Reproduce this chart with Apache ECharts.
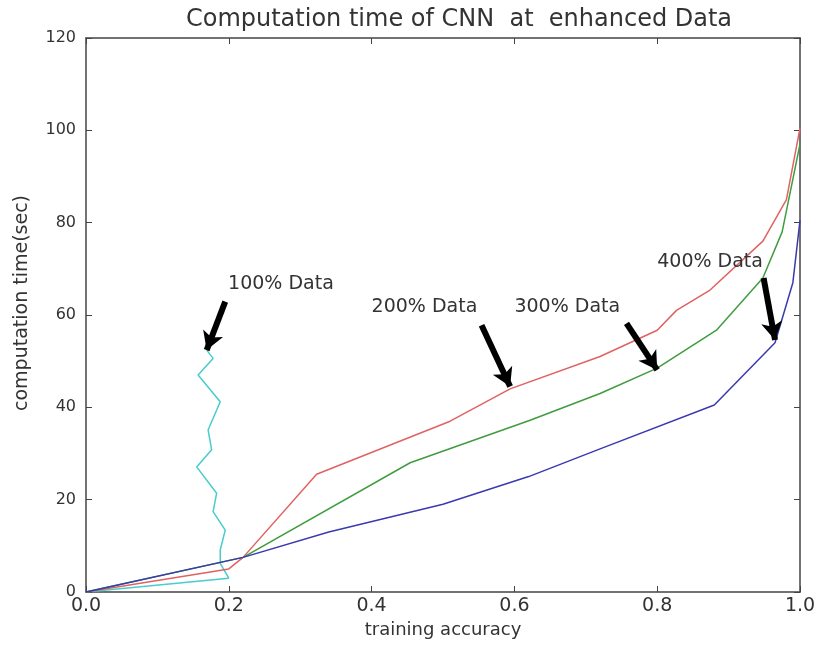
<!DOCTYPE html>
<html><head><meta charset="utf-8">
<script src="https://cdn.jsdelivr.net/npm/echarts@6/dist/echarts.min.js"></script>
<style>html,body{margin:0;padding:0;background:#fff}#c{width:820px;height:648px}</style>
</head><body><div id="c"></div>
<script>
const chartTitle = "Computation time of CNN  at  enhanced Data";
const xName = "training accuracy";
const yName = "computation time(sec)";
const xMin = 0, xMax = 1, xStep = 0.2;
const yMin = 0, yMax = 120, yStep = 20;

// 100% Data (cyan)
const acc100  = [0, 0.2, 0.188, 0.188, 0.195, 0.178, 0.183, 0.155, 0.176, 0.171, 0.188, 0.157, 0.178, 0.169];
const time100 = [0, 3, 6.2, 9.1, 13.4, 17.4, 21.4, 27.1, 30.8, 35.1, 41.2, 47, 50.6, 52.4];
// 200% Data (red)
const acc200  = [0, 0.2, 0.22, 0.323, 0.51, 0.594, 0.72, 0.80, 0.827, 0.874, 0.948, 0.981, 1.0];
const time200 = [0, 5, 7.5, 25.5, 37, 44, 51, 56.7, 61, 65.4, 76, 85, 100.5];
// 300% Data (green)
const acc300  = [0, 0.22, 0.454, 0.622, 0.72, 0.80, 0.883, 0.948, 0.975, 1.0];
const time300 = [0, 7.5, 28, 37.2, 43, 48.5, 56.7, 68, 78, 97];
// 400% Data (blue)
const acc400  = [0, 0.22, 0.34, 0.5, 0.62, 0.72, 0.88, 0.965, 0.99, 1.0];
const time400 = [0, 7.5, 13, 19, 25, 31, 40.5, 54, 67, 80.5];

// annotations: label position and arrow tail/head in data coordinates
const noteText  = ["100% Data", "200% Data", "300% Data", "400% Data"];
const noteX     = [0.199, 0.40, 0.60, 0.80];
const noteY     = [66.7, 61.7, 61.7, 71.5];
const arrowTail = [[0.195, 62.9], [0.554, 57.8], [0.757, 58.2], [0.949, 68]];
const arrowHead = [[0.169, 52.4], [0.594, 44.5], [0.80, 48.1], [0.965, 54.6]];

const colors = ["#48cccc", "#e06262", "#3f9c3f", "#3a3ab0"];

const pairs = (xs, ys) => xs.map((x, i) => [x, ys[i]]);
const font = "DejaVu Sans";
const txt = "#333";

const chart = echarts.init(document.getElementById('c'));
const lineSeries = (name, xs, ys, color) => ({
  name, type: 'line', data: pairs(xs, ys), showSymbol: false, symbol: 'none',
  lineStyle: { color, width: 1.5 }, itemStyle: { color }, z: 3
});

chart.setOption({
  animation: false,
  backgroundColor: '#fff',
  title: { text: chartTitle, left: 454, top: 3, textAlign: 'center',
    textStyle: { fontFamily: font, fontSize: 24, fontWeight: 'normal', color: txt } },
  grid: { left: 86, right: 20, top: 38, bottom: 56 },
  xAxis: [{
    type: 'value', min: xMin, max: xMax, interval: xStep,
    name: xName, nameLocation: 'middle', nameGap: 29,
    nameTextStyle: { fontFamily: font, fontSize: 18, color: txt },
    axisLine: { onZero: false, lineStyle: { color: '#444', width: 1.5 } },
    axisTick: { inside: true, length: 6, lineStyle: { color: '#444' } },
    axisLabel: { fontFamily: font, fontSize: 19, color: txt, margin: 5, formatter: v => v.toFixed(1) },
    splitLine: { show: false }
  }, {
    type: 'value', min: xMin, max: xMax, interval: xStep, position: 'top',
    axisLine: { onZero: false, lineStyle: { color: '#444', width: 1.5 } },
    axisTick: { inside: true, length: 6, lineStyle: { color: '#444' } },
    axisLabel: { show: false }, splitLine: { show: false }
  }],
  yAxis: [{
    type: 'value', min: yMin, max: yMax, interval: yStep,
    name: yName, nameLocation: 'middle', nameGap: 54,
    nameTextStyle: { fontFamily: font, fontSize: 19, color: txt, padding: [0, 0, 0, 24] },
    axisLine: { onZero: false, lineStyle: { color: '#444', width: 1.5 } },
    axisTick: { inside: true, length: 6, lineStyle: { color: '#444' } },
    axisLabel: { fontFamily: font, fontSize: 16, color: txt, margin: 10 },
    splitLine: { show: false }
  }, {
    type: 'value', min: yMin, max: yMax, interval: yStep, position: 'right',
    axisLine: { onZero: false, lineStyle: { color: '#444', width: 1.5 } },
    axisTick: { inside: true, length: 6, lineStyle: { color: '#444' } },
    axisLabel: { show: false }, splitLine: { show: false }
  }],
  series: [
    lineSeries('100% Data', acc100, time100, colors[0]),
    lineSeries('200% Data', acc200, time200, colors[1]),
    lineSeries('300% Data', acc300, time300, colors[2]),
    lineSeries('400% Data', acc400, time400, colors[3]),
    {
      name: 'notes', type: 'scatter', symbolSize: 0, z: 5,
      itemStyle: { opacity: 1 },
      data: noteText.map((t, i) => [noteX[i], noteY[i], t]),
      label: { show: true, position: 'right', distance: 0, formatter: p => p.data[2],
        fontFamily: font, fontSize: 19, color: txt },
      markLine: {
        silent: true, symbol: ['none', 'arrow'], symbolSize: [16, 18],
        label: { show: false },
        lineStyle: { color: '#000', width: 6, type: 'solid' },
        data: arrowTail.map((t, i) => [{ coord: t }, { coord: arrowHead[i] }])
      }
    }
  ]
});
</script>
</body></html>
